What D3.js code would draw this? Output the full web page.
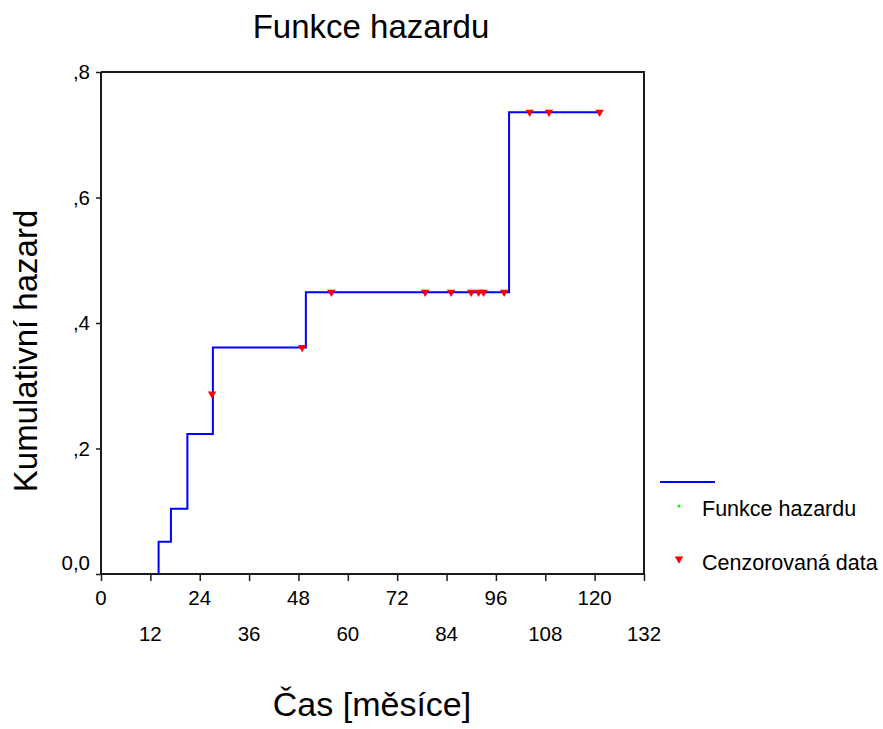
<!DOCTYPE html>
<html>
<head>
<meta charset="utf-8">
<script src="https://cdn.jsdelivr.net/npm/d3@7"></script>
<style>
  body { margin: 0; background: #fff; }
  svg { display: block; font-family: "Liberation Sans", Arial, sans-serif; }
</style>
</head>
<body>
<svg id="chart" width="883" height="729"></svg>
<script>
// ---- data ----
const stepTimes  = [14, 14, 17, 21, 27.2, 49.8, 99.2, 121.8];
const stepValues = [0, 0.0515, 0.104, 0.223, 0.361, 0.449, 0.736, 0.736];
const censorTimes  = [27.0, 48.9, 56.0, 78.8, 85.1, 90.0, 91.8, 93.0, 98.0, 104.2, 108.9, 121.2];
const censorValues = [0.287, 0.361, 0.449, 0.449, 0.449, 0.449, 0.449, 0.449, 0.449, 0.736, 0.736, 0.736];
const xTicksRow1 = [0, 24, 48, 72, 96, 120];
const xTicksRow2 = [12, 36, 60, 84, 108, 132];
const yTicks = [0, 0.2, 0.4, 0.6, 0.8];
const yTickLabels = ["0,0", ",2", ",4", ",6", ",8"];
const titleText = "Funkce hazardu";
const xTitle = "Čas [měsíce]";
const yTitle = "Kumulativní hazard";
const legendLabels = ["Funkce hazardu", "Cenzorovaná data"];

// ---- layout ----
const svg = d3.select("#chart");
const L = 101, R = 644, T = 72, B = 574;
const x = d3.scaleLinear().domain([0, 132]).range([L, R]);
const y = d3.scaleLinear().domain([0, 0.8]).range([B, T]);

// frame (top and right border)
svg.append("path")
  .attr("d", `M${L},${T}H${R}V${B}`)
  .attr("fill", "none").attr("stroke", "#1a1a1a").attr("stroke-width", 2);

// x axis
const xAxis = d3.axisBottom(x).tickValues(d3.range(0, 133, 12)).tickSize(7).tickFormat("");
const gx = svg.append("g").attr("transform", `translate(0,${B})`).call(xAxis);
gx.select(".domain").attr("stroke", "#1a1a1a").attr("stroke-width", 2).attr("d", `M${L},0H${R}`);
gx.selectAll(".tick line").attr("stroke", "#1a1a1a").attr("stroke-width", 1.5);

svg.append("g").selectAll("text").data(xTicksRow1).join("text")
  .attr("x", d => x(d)).attr("y", 605)
  .attr("text-anchor", "middle").attr("font-size", 20.5).attr("fill", "#000")
  .text(d => d);
svg.append("g").selectAll("text").data(xTicksRow2).join("text")
  .attr("x", d => x(d)).attr("y", 641)
  .attr("text-anchor", "middle").attr("font-size", 20.5).attr("fill", "#000")
  .text(d => d);

// y axis
const yAxis = d3.axisLeft(y).tickValues(yTicks).tickSize(5).tickFormat("");
const gy = svg.append("g").attr("transform", `translate(${L},0)`).call(yAxis);
gy.select(".domain").attr("stroke", "#1a1a1a").attr("stroke-width", 2).attr("d", `M0,${T}V${B}`);
gy.selectAll(".tick line").attr("stroke", "#1a1a1a").attr("stroke-width", 1.5);

svg.append("g").selectAll("text").data(yTicks).join("text")
  .attr("x", 90)
  .attr("y", (d, i) => y(d) + 7 - (i === 0 ? 11.5 : 0))
  .attr("text-anchor", "end").attr("font-size", 20.5).attr("fill", "#000")
  .text((d, i) => yTickLabels[i]);

// step line
const pts = stepTimes.map((t, i) => [t, stepValues[i]]);
const line = d3.line().x(d => x(d[0])).y(d => y(d[1])).curve(d3.curveStepAfter);
svg.append("path").datum(pts)
  .attr("d", line)
  .attr("fill", "none").attr("stroke", "#0000ff").attr("stroke-width", 2);

// censored marks
const tri = "M-4.2,-3.4L4.2,-3.4L0,3.8Z";
svg.append("g").selectAll("path").data(censorTimes).join("path")
  .attr("d", tri)
  .attr("transform", (d, i) => `translate(${x(d)},${y(censorValues[i]) + 1})`)
  .attr("fill", "#ff0000");

// titles
svg.append("text").attr("x", 371).attr("y", 38)
  .attr("text-anchor", "middle").attr("font-size", 33).attr("fill", "#000")
  .text(titleText);
svg.append("text").attr("x", 372).attr("y", 716)
  .attr("text-anchor", "middle").attr("font-size", 34).attr("fill", "#000")
  .text(xTitle);
svg.append("text").attr("transform", "translate(37,351) rotate(-90)")
  .attr("text-anchor", "middle").attr("font-size", 33).attr("fill", "#000")
  .text(yTitle);

// legend
svg.append("line").attr("x1", 660).attr("x2", 715).attr("y1", 482).attr("y2", 482)
  .attr("stroke", "#0000ff").attr("stroke-width", 2);
svg.append("circle").attr("cx", 679).attr("cy", 506).attr("r", 1.6).attr("fill", "#00ff00");
svg.append("path").attr("d", tri).attr("transform", "translate(679,560)").attr("fill", "#ff0000");
svg.append("text").attr("x", 702).attr("y", 516).attr("font-size", 21.5).attr("fill", "#000").text(legendLabels[0]);
svg.append("text").attr("x", 702).attr("y", 570).attr("font-size", 21.5).attr("fill", "#000").text(legendLabels[1]);
</script>
</body>
</html>
